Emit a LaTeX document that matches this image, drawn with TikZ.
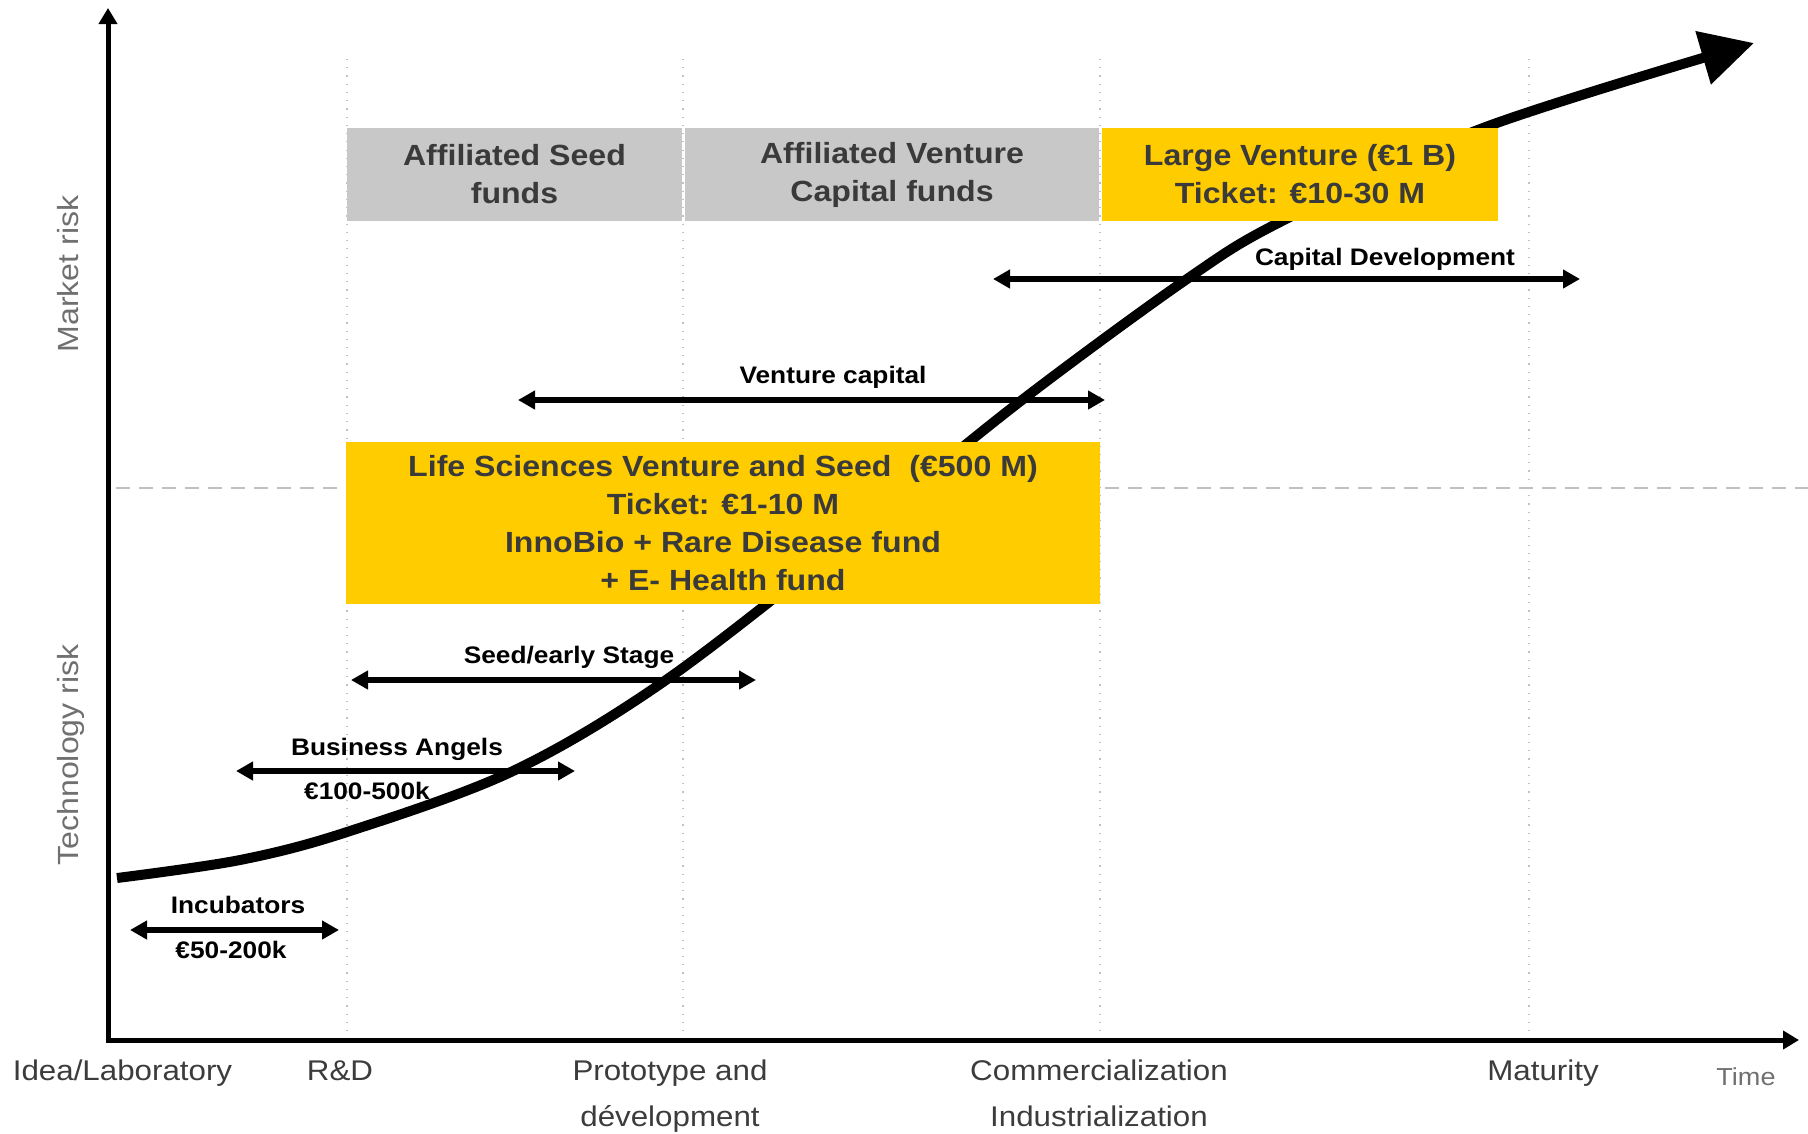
\documentclass[tikz,border=0pt]{standalone}
\usepackage{fontspec}
\setmainfont[FakeStretch=1.1]{Liberation Sans}
\usetikzlibrary{arrows.meta}
\definecolor{fundgray}{HTML}{C8C8C8}
\definecolor{fundgold}{HTML}{FFCC00}
\definecolor{boxtext}{HTML}{3A3A3A}
\definecolor{gridgray}{HTML}{C0C0C0}
\definecolor{risktext}{HTML}{707070}
\definecolor{stagetext}{HTML}{3C3C3C}
\begin{document}
\begin{tikzpicture}[x=0.1mm, y=-0.1mm,
    fund/.style = {inner sep=0pt, align=center, text=boxtext, font=\fontsize{8.3}{10.8}\selectfont\bfseries},
    span/.style = {line width=0.6mm, {Triangle[length=1.7mm,width=1.8mm]}-{Triangle[length=1.7mm,width=1.8mm]}},
    spanlbl/.style = {anchor=base, inner sep=0pt, font=\fontsize{6.8}{8}\selectfont\bfseries},
    stage/.style = {inner sep=0pt, align=center, text=stagetext, font=\fontsize{8.1}{13.1}\selectfont},
    risk/.style = {anchor=base, rotate=90, inner sep=0pt, text=risktext, font=\fontsize{8.3}{10}\selectfont},
    grid/.style = {gridgray, dotted, line width=0.12mm},
    axis/.style = {line width=0.5mm, {Triangle[length=1.6mm,width=1.8mm]}-{Triangle[length=1.6mm,width=1.8mm]}}]
    \useasboundingbox (0,0) rectangle (1808,1133);
    \foreach \gx in {347,683,1100,1529} \draw[grid] (\gx,59) -- (\gx,1036);
    \draw[gridgray, line width=0.2mm, dash pattern=on 1.4mm off 0.9mm] (116,488) -- (1808,488);
    \draw[line width=1mm, -{Triangle[length=5.3mm,width=5.3mm]}] plot[smooth, tension=0.55] coordinates {(117,878) (240,860) (347,832) (513,771) (666,680) (860,530) (1022,400) (1187,279) (1282,221) (1483,128) (1754,43)};
    \node[fund, fill=fundgray, minimum width=33.5mm, minimum height=9.3mm] (seed) at (514.5,174.5) {Affiliated Seed\\funds};
    \node[fund, fill=fundgray, minimum width=41.4mm, minimum height=9.3mm] (vc) at (892,174.5) {Affiliated Venture\\Capital funds};
    \node[fund, fill=fundgold, minimum width=39.6mm, minimum height=9.3mm] (large) at (1300,174.5) {Large Venture (€1 B)\\Ticket: €10-30 M};
    \node[fund, fill=fundgold, minimum width=75.4mm, minimum height=16.2mm] (ls) at (723,523) {Life Sciences Venture and Seed\ \ (€500 M)\\Ticket: €1-10 M\\InnoBio + Rare Disease fund\\+ E- Health fund};
    \coordinate (capW) at (993,279);
    \coordinate (capE) at (1580,279);
    \coordinate (ventW) at (518,400);
    \coordinate (ventE) at (1105,400);
    \coordinate (earlyW) at (351,680);
    \coordinate (earlyE) at (756,680);
    \coordinate (angelW) at (236,771);
    \coordinate (angelE) at (575,771);
    \coordinate (incW) at (130,930);
    \coordinate (incE) at (339,930);
    \draw[span] (capW) -- (capE);
    \draw[span] (ventW) -- (ventE);
    \draw[span] (earlyW) -- (earlyE);
    \draw[span] (angelW) -- (angelE);
    \draw[span] (incW) -- (incE);
    \node[spanlbl] (cap) at (1385,265) {Capital Development};
    \node[spanlbl] (vent) at (833,383) {Venture capital};
    \node[spanlbl] (early) at (569,663) {Seed/early Stage};
    \node[spanlbl] (angel) at (397,755) {Business Angels};
    \node[spanlbl] (angelamt) at (367,799) {€100-500k};
    \node[spanlbl] (inc) at (238,913) {Incubators};
    \node[spanlbl] (incamt) at (231,958) {€50-200k};
    \coordinate (ytop) at (108,8);
    \coordinate (o) at (108,1040);
    \coordinate (xend) at (1799,1040);
    \draw[axis] (ytop) -- (o) -- (xend);
    \node[risk] (mkt) at (78,274) {Market risk};
    \node[risk] (tech) at (78,755) {Technology risk};
    \node[stage, anchor=base] (idea) at (122.5,1080) {Idea/Laboratory};
    \node[stage, anchor=base] (rd) at (340,1080) {R\&D};
    \node[stage, anchor=north] (proto) at (670,1059) {Prototype and\\dévelopment};
    \node[stage, anchor=north] (comm) at (1099,1059) {Commercialization\\Industrialization};
    \node[stage, anchor=base] (mat) at (1543,1080) {Maturity};
    \node[anchor=base, inner sep=0pt, text=risktext, font=\fontsize{7}{8}\selectfont] (time) at (1746,1085) {Time};
\end{tikzpicture}
\end{document}
